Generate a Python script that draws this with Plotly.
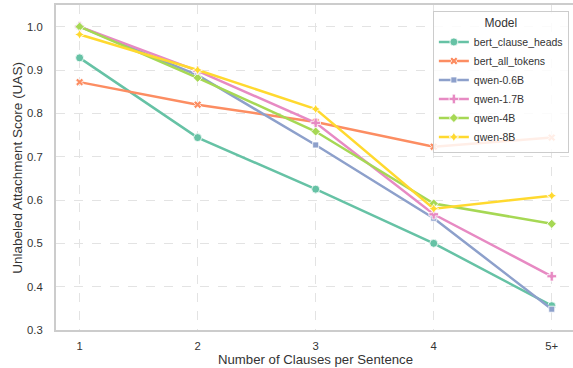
import plotly.graph_objects as go

categories = ["1", "2", "3", "4", "5+"]
models = ["bert_clause_heads", "bert_all_tokens", "qwen-0.6B", "qwen-1.7B", "qwen-4B", "qwen-8B"]
bert_clause_heads = [0.928, 0.744, 0.625, 0.500, 0.356]
bert_all_tokens = [0.872, 0.820, 0.780, 0.723, 0.744]
qwen_06b = [1.000, 0.888, 0.727, 0.558, 0.348]
qwen_17b = [1.000, 0.898, 0.778, 0.567, 0.424]
qwen_4b = [1.000, 0.882, 0.758, 0.592, 0.545]
qwen_8b = [0.982, 0.900, 0.810, 0.580, 0.610]
y_ticks = [0.3, 0.4, 0.5, 0.6, 0.7, 0.8, 0.9, 1.0]
x_title = "Number of Clauses per Sentence"
y_title = "Unlabeled Attachment Score (UAS)"

series = [bert_clause_heads, bert_all_tokens, qwen_06b, qwen_17b, qwen_4b, qwen_8b]
colors = ["#66c2a5", "#fc8d62", "#8da0cb", "#e78ac3", "#a6d854", "#ffd92f"]
symbols = ["circle", "x", "square", "cross", "diamond", "star-diamond"]
sizes = [8, 7, 6, 8, 7, 7]

xpos = list(range(1, len(categories) + 1))
fig = go.Figure()
for name, vals, c, s, sz in zip(models, series, colors, symbols, sizes):
    fig.add_trace(go.Scatter(
        x=xpos, y=vals, name=name, mode="lines+markers",
        line=dict(color=c, width=2.5),
        marker=dict(symbol=s, size=sz, color=c, line=dict(color="white", width=0.8)),
    ))

fig.update_layout(
    width=573, height=368,
    margin=dict(l=56, r=0, t=5, b=38),
    paper_bgcolor="white", plot_bgcolor="white",
    font=dict(family="Liberation Sans, Arial, sans-serif", size=11, color="#333333"),
    showlegend=True,
    legend=dict(
        title=dict(text="Model", side="top center", font=dict(size=12, color="#333")),
        x=0.992, y=0.982, xanchor="right", yanchor="top",
        bgcolor="rgba(255,255,255,0.85)", bordercolor="#cccccc", borderwidth=1,
        font=dict(size=10.5, color="#333"), tracegroupgap=0, itemwidth=30,
    ),
    xaxis=dict(
        range=[0.8, 5.18], tickmode="array", tickvals=xpos, ticktext=categories,
        showgrid=True, gridcolor="#e3e3e3", griddash="dash", gridwidth=1,
        zeroline=False, showline=True, linecolor="#cccccc", linewidth=2, mirror=True,
        ticks="outside", ticklen=4, tickcolor="rgba(0,0,0,0)", tickfont=dict(size=11.3),
        automargin=False,
    ),
    yaxis=dict(
        range=[0.3, 1.05], tickmode="array", tickvals=y_ticks,
        ticktext=[f"{v:.1f}" for v in y_ticks],
        showgrid=True, gridcolor="#e3e3e3", griddash="dash", gridwidth=1,
        zeroline=False, showline=True, linecolor="#cccccc", linewidth=2, mirror=True,
        ticks="outside", ticklen=9, tickcolor="rgba(0,0,0,0)", tickfont=dict(size=11.3),
        automargin=False,
    ),
    annotations=[
        dict(text=x_title, xref="paper", yref="paper", x=0.502, y=-0.09,
             xanchor="center", yanchor="middle", showarrow=False, font=dict(size=13.2)),
        dict(text=y_title, xref="paper", yref="paper", x=-0.075, y=0.5, textangle=-90,
             xanchor="center", yanchor="middle", showarrow=False, font=dict(size=13.5)),
    ],
)

fig.write_html("out.html", config={"displayModeBar": False},
               post_script="document.body.style.margin='0';")
